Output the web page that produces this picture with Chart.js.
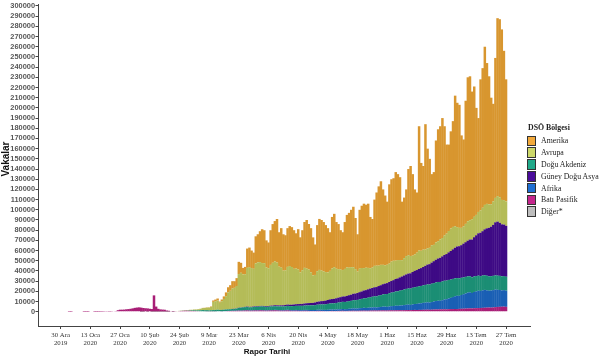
<!DOCTYPE html>
<html>
<head>
<meta charset="utf-8">
<script src="https://cdn.jsdelivr.net/npm/chart.js@4.4.0/dist/chart.umd.min.js"></script>
<style>
body { margin: 0; background: #fff; }
#wrap { position: relative; width: 605px; height: 363px; }
#legend { position: absolute; left: 527px; top: 123px; font-family: 'Liberation Serif', serif; font-size: 7.8px; color: #222; }
#legend .lt { font-weight: bold; height: 10px; line-height: 10px; margin-left: 1px; margin-bottom: 2.1px; }
#legend .li { display: flex; align-items: center; height: 11.8px; }
#legend .sw { width: 9px; height: 10.6px; border: 0.8px solid #333; box-sizing: border-box; margin-right: 5px; }
#xtitle { position: absolute; left: 217px; width: 100px; top: 347px; text-align: center; font: bold 8px 'Liberation Sans', sans-serif; color: #111; }
#ytitle { position: absolute; left: -24px; width: 60px; top: 153px; height: 12px; line-height: 12px; text-align: center; transform: rotate(-90deg); font: bold 10px 'Liberation Sans', sans-serif; color: #111; }
</style>
</head>
<body>
<div id="wrap">
  <canvas id="chart" width="605" height="363"></canvas>
  <div id="legend"></div>
  <div id="xtitle">Rapor Tarihi</div>
  <div id="ytitle">Vakalar</div>
</div>
<script>
// day 0 = 30 Dec 2019, day 210 = 27 Jul 2020
const tickDays = [0, 14, 28, 42, 56, 70, 84, 98, 112, 126, 140, 154, 168, 182, 196, 210];
const tickLabels = [['30 Ara', '2019'], ['13 Oca', '2020'], ['27 Oca', '2020'], ['10 Şub', '2020'], ['24 Şub', '2020'],
  ['9 Mar', '2020'], ['23 Mar', '2020'], ['6 Nis', '2020'], ['20 Nis', '2020'], ['4 May', '2020'], ['18 May', '2020'],
  ['1 Haz', '2020'], ['15 Haz', '2020'], ['29 Haz', '2020'], ['13 Tem', '2020'], ['27 Tem', '2020']];
const yTicks = Array.from({ length: 31 }, (_, i) => i * 10000);

const regions = ['Amerika', 'Avrupa', 'Doğu Akdeniz', 'Güney Doğu Asya', 'Afrika', 'Batı Pasifik', 'Diğer*'];
const regionColors = ['#F2A93B', '#CDD86A', '#20A98A', '#4A0C9B', '#1E6FD2', '#C4258C', '#BDBDBD'];
const barColors = ['#D8962F', '#B4BC58', '#1B8E74', '#3E0A85', '#1A5FB4', '#A81E76', '#A0A0A0'];

const amerika = [
  0,0,0,0,0,0,0,0,0,0, 0,0,0,0,0,0,0,0,0,0, 0,0,0,0,0,0,0,0,0,0,
  0,0,0,0,0,0,0,0,0,0, 0,0,0,0,0,0,0,0,0,0, 0,0,0,0,0,0,0,0,0,0,
  5,10,20,30,40,60,100,150,200,300,
  400,500,1400,1700,2000,1200,1700,2500,3700,5100,
  5500,7200,6500,7700,12000,9800,6400,7200,18900,19200,
  17200,15900,26600,27600,30300,33200,32300,26600,25300,34000,
  38000,39600,42700,33800,38800,35700,34400,38000,39200,39100,
  37900,34600,39500,34400,39300,45000,47700,44600,43400,37300,
  29900,45300,50000,49600,48500,46100,43500,37900,50600,52400,
  45800,44200,38700,37100,46000,51500,53800,56300,59400,50200,
  36600,57800,61100,63200,61800,63000,50300,47700,65000,71800,
  77800,82000,74000,68400,61900,77800,80800,81000,86900,84300,
  81300,57400,59400,65400,84600,88300,80000,63900,59100,122000,
  86200,82100,123000,97800,87300,69800,71400,100000,109800,111100,
  117700,107300,87400,84800,95400,103800,128200,122000,120700,90700,
  85200,120800,141300,141200,125200,127900,105000,92100,128500,137000,
  155200,138200,125700,104600,95800,137300,174600,174800,167300,146500,
  119700];

const avrupa = [
  0,0,0,0,0,0,0,0,0,0, 0,0,0,0,0,0,0,0,0,0, 0,0,0,0,0,0,0,0,0,0,
  0,0,0,0,0,0,0,0,0,0, 0,0,0,0,0,0,0,0,0,0,
  0,5,20,10,60,100,150,200,300,350,
  400,600,700,800,1000,1200,1500,2000,2200,2500,
  2600,3200,8000,8500,9000,7000,8500,10500,13000,16500,
  18000,20000,20500,22000,33000,34000,32000,32000,38000,39000,
  38000,37000,42000,43000,43000,42000,42000,38000,37000,40000,
  42000,43000,42000,38000,37000,34000,34000,37000,38000,37000,
  35000,35000,34000,31000,33000,35000,34000,33000,30000,27000,
  27000,30000,31000,30000,29000,28000,27000,28000,30000,31000,
  29000,28000,27000,26000,27000,28000,27000,27000,26000,24000,
  21000,23000,23000,22000,22000,21000,20000,20000,21000,21000,
  20000,20000,19000,18000,18000,18000,19000,19000,18000,18000,
  17000,16000,17000,18000,18000,17000,16000,16000,17000,18000,
  17000,17000,16000,16000,16000,17000,16000,17000,17000,18000,
  18000,19000,20000,21000,22000,22000,21000,19000,18000,17000,
  17000,18000,19000,19000,20000,20000,20000,21000,22000,23000,
  24000,24000,23000,22000,23000,24000,25000,25000,24000,24000,
  24000];

const doguAkdeniz = [
  0,0,0,0,0,0,0,0,0,0, 0,0,0,0,0,0,0,0,0,0, 0,0,0,0,0,0,0,0,0,0,
  0,0,0,0,0,0,0,0,0,0, 0,0,0,0,0,0,0,0,0,0,
  0,0,5,10,20,30,50,80,100,150,
  250,400,500,600,600,700,900,1100,1000,1100,
  900,1000,1200,1300,1400,1200,1300,1400,1500,1500,
  1600,1700,1800,2000,2500,2800,3000,3100,3200,3000,
  3100,3200,3300,3300,3400,3500,3500,3300,3400,3500,
  3500,3600,3500,3600,3700,3600,3700,3800,3800,3900,
  4000,4000,4100,4200,4200,4300,4400,4500,4600,4600,
  4800,5000,5100,5300,5400,5600,5800,6000,6000,6200,
  6400,6600,6800,7000,7100,7300,7500,7700,8000,8200,
  8400,8700,9000,9300,9600,9900,10200,10500,10800,11000,
  11300,11600,12000,12300,12600,13000,13300,13600,14000,14300,
  14600,15000,15300,15600,15800,16000,16300,16500,16700,16900,
  17000,17200,17400,17600,17800,18000,18100,18300,18400,18500,
  18500,18400,18300,18200,18000,17800,17600,17400,17200,16900,
  16600,16300,16000,15700,15400,15200,15000,14800,14600,14500,
  14400,14300,14200,14100,14000,14000,13900,13900,13800,13800,
  13700];

const guneyDoguAsya = [
  0,0,0,0,0,0,0,0,0,0, 0,0,0,0,0,0,0,0,0,0, 0,0,0,0,0,0,0,0,0,0,
  0,0,0,0,0,0,0,0,0,0, 0,0,0,0,0,0,0,0,0,0, 0,0,0,0,0,0,0,0,0,0,
  0,0,0,0,0,0,0,0,0,0,
  5,10,10,20,20,30,40,50,60,80,
  100,100,150,150,200,250,300,300,350,400,
  400,450,500,600,550,600,650,700,700,750,
  800,900,1000,950,1000,1100,1200,1300,1300,1400,
  1500,1600,1700,1800,1900,2000,2100,2200,2300,2400,
  2600,2800,3000,3200,3300,3500,3800,4000,4200,4400,
  4600,4800,5000,5200,5400,5600,5800,6000,6300,6500,
  6800,7000,7300,7600,7900,8200,8400,8600,8800,9100,
  9400,9700,10000,10300,10700,11000,11400,11800,12200,12600,
  13000,13400,13800,14200,14600,15000,15500,16000,16500,17000,
  17500,18000,18700,19400,20000,20700,21500,22200,23000,23700,
  24500,25300,26000,27000,28000,29000,30000,31000,31500,32000,
  33000,34000,35000,36000,37000,38500,40000,41500,42500,43500,
  45000,46500,47500,48500,50000,52000,53000,52000,51000,50500,
  50000];

const afrika = [
  0,0,0,0,0,0,0,0,0,0, 0,0,0,0,0,0,0,0,0,0, 0,0,0,0,0,0,0,0,0,0,
  0,0,0,0,0,0,0,0,0,0, 0,0,0,0,0,0,0,0,0,0, 0,0,0,0,0,0,0,0,0,0,
  0,1,1,2,2,3,5,10,15,20,
  20,25,30,40,50,60,70,90,110,130,
  150,170,200,220,250,250,280,300,320,350,
  330,360,400,420,450,450,400,420,450,500,
  500,550,560,540,520,600,650,700,720,680,
  700,760,800,820,780,850,900,950,1000,960,
  1000,1100,1150,1200,1100,1200,1300,1400,1400,1350,
  1500,1600,1700,1800,1700,1800,2000,2100,2300,2200,
  2300,2500,2600,2800,2700,2900,3000,3100,3200,3000,
  3300,3500,3700,3800,3600,3900,4100,4300,4500,4400,
  4600,4800,5000,5200,5300,5100,5500,5800,6000,6300,
  6500,6800,7000,7200,7000,7500,7900,8300,8600,8400,
  9000,9600,10000,10500,11000,11800,12500,13000,12800,13500,
  14200,14800,15500,15800,15200,16000,16500,17000,16700,17200,
  17500,17000,16500,16800,17000,17200,16800,16500,16000,16200,
  15800];

const batiPasifik = [
  0,0,0,0,40,30,0,0,0,0,
  0,20,20,20,0,0,40,30,60,100,
  150,300,300,150,270,450,680,1500,2000,2000,
  2100,2400,2600,2900,3300,3800,4100,4300,4000,3600,
  3400,3200,2900,2600,16000,5000,2800,2200,2000,1900,
  1200,900,400,600,650,500,700,800,900,1000,
  900,900,700,800,600,600,500,500,450,400,
  400,400,400,400,500,500,400,500,600,700,
  700,800,800,900,1000,900,1000,1100,1200,1000,
  1000,1100,1200,1100,1300,1200,1100,1000,1100,1200,
  1200,1300,1200,1100,1000,1000,1100,1200,1000,900,
  900,1000,900,800,800,900,900,800,700,700,
  700,800,800,700,700,600,600,700,800,700,
  700,800,800,900,800,800,900,900,1000,900,
  900,1000,1000,1100,1000,1000,1100,1100,1200,1100,
  1200,1200,1300,1200,1200,1300,1400,1300,1400,1400,
  1500,1400,1500,1600,1700,1600,1700,1800,1700,1800,
  1800,1900,1900,2000,1900,2000,2100,2200,2200,2300,
  2300,2400,2300,2500,2600,2600,2700,2600,2800,2900,
  3000,3100,3200,3300,3200,3400,3500,3600,3700,3800,
  3900,4000,4100,4000,4200,4500,4700,4800,4900,5000,
  4800];

const diger = [
  0,0,0,0,0,0,0,0,0,0, 0,0,0,0,0,0,0,0,0,0, 0,0,0,0,0,0,0,0,0,0,
  0,0,0,0,0,0,0,0,10,60, 0,60,0,40,40,70,70,100,90,80,
  10,60,0,80,0,0,0,0,0,0, 0,0,0,0,0,0,0,0,0,0,
  0,0,0,0,0,0,0,0,0,0, 0,0,0,0,0,0,0,0,0,0, 0,0,0,0,0,0,0,0,0,0,
  0,0,0,0,0,0,0,0,0,0, 0,0,0,0,0,0,0,0,0,0, 0,0,0,0,0,0,0,0,0,0,
  0,0,0,0,0,0,0,0,0,0, 0,0,0,0,0,0,0,0,0,0, 0,0,0,0,0,0,0,0,0,0,
  0,0,0,0,0,0,0,0,0,0, 0,0,0,0,0,0,0,0,0,0, 0,0,0,0,0,0,0,0,0,0,
  0,0,0,0,0,0,0,0,0,0, 0,0,0,0,0,0,0,0,0,0,
  0];

const days = amerika.map((v, i) => i);

// stacking order bottom -> top
const series = [diger, batiPasifik, afrika, doguAkdeniz, guneyDoguAsya, avrupa, amerika];
const seriesNames = ['Diğer*', 'Batı Pasifik', 'Afrika', 'Doğu Akdeniz', 'Güney Doğu Asya', 'Avrupa', 'Amerika'];

const datasets = series.map((d, i) => {
  const k = regions.indexOf(seriesNames[i]);
  return {
    label: seriesNames[i],
    data: d,
    backgroundColor: barColors[k],
    borderWidth: 0,
    inflateAmount: 0,
    barPercentage: 1.18,
    categoryPercentage: 1
  };
});

const axisColor = '#444';

new Chart(document.getElementById('chart').getContext('2d'), {
  type: 'bar',
  data: { labels: days, datasets: datasets },
  options: {
    responsive: false,
    animation: false,
    devicePixelRatio: 1,
    layout: { padding: { top: 3, right: 75, left: 0, bottom: 0 } },
    plugins: { legend: { display: false }, tooltip: { enabled: false } },
    scales: {
      x: {
        type: 'linear',
        stacked: true,
        offset: false,
        min: -10.7,
        max: 221.3,
        afterBuildTicks: axis => { axis.ticks = tickDays.map(v => ({ value: v })); },
        afterFit: scale => { scale.height = 37; },
        grid: { offset: false, drawOnChartArea: false, drawTicks: true, tickLength: 3, color: axisColor },
        border: { display: true, color: axisColor, width: 1 },
        ticks: {
          autoSkip: false,
          maxRotation: 0,
          padding: 2,
          color: '#333',
          font: { family: 'Liberation Serif', size: 6.8, lineHeight: 1.15 },
          callback: v => tickLabels[tickDays.indexOf(v)]
        }
      },
      y: {
        stacked: true,
        min: -14000,
        max: 301000,
        afterBuildTicks: axis => { axis.ticks = yTicks.map(v => ({ value: v })); },
        afterFit: scale => { scale.width = 38; },
        grid: { drawOnChartArea: false, drawTicks: true, tickLength: 2.5, color: axisColor },
        border: { display: true, color: axisColor, width: 1 },
        ticks: {
          autoSkip: false,
          padding: 0.5,
          color: '#555',
          font: { family: 'Liberation Sans', size: 7.4, weight: 'bold' },
          callback: v => String(v)
        }
      }
    }
  }
});

// legend
const legend = document.getElementById('legend');
let html = '<div class="lt">DSÖ Bölgesi</div>';
regions.forEach((r, i) => {
  html += '<div class="li"><span class="sw" style="background:' + regionColors[i] + '"></span>' + r + '</div>';
});
legend.innerHTML = html;
</script>
</body>
</html>
